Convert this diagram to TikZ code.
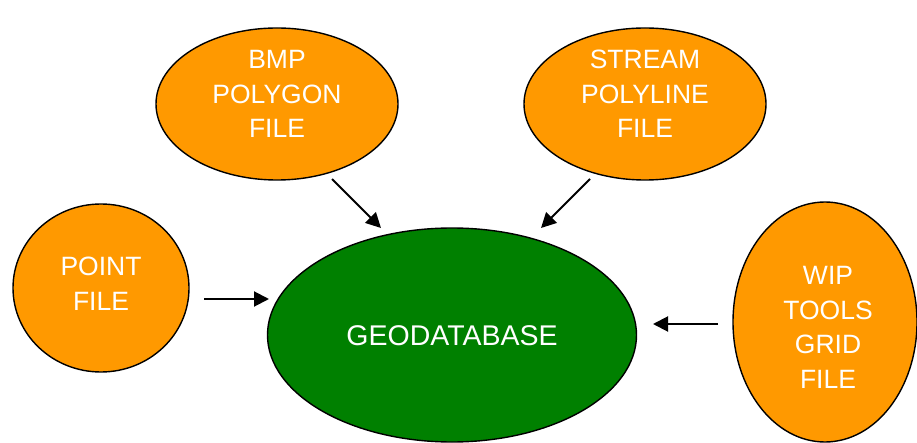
\documentclass[tikz,border=0pt]{standalone}
\usepackage{fontspec}
\setmainfont{Liberation Sans}
\usetikzlibrary{shapes.geometric,arrows.meta}
\definecolor{ornge}{RGB}{255,153,0}
\definecolor{dgreen}{RGB}{0,128,0}
\tikzset{
  orangeell/.style={ellipse,draw=black,line width=1.4pt,fill=ornge,inner sep=0pt},
  greenell/.style={ellipse,draw=black,line width=1.4pt,fill=dgreen,inner sep=0pt},
  lbl/.style={text=white,align=center,inner sep=0pt,font=\fontsize{26.5}{34.5}\selectfont},
  biglbl/.style={text=white,align=center,inner sep=0pt,font=\fontsize{28.5}{34}\selectfont},
  arr/.style={line width=2pt,-{Triangle[length=15pt,width=15pt]}}
}
\begin{document}
\begin{tikzpicture}[x=1pt,y=-1pt]
\useasboundingbox (0,0) rectangle (917,443);
% ellipses
\node[orangeell,minimum width=242pt,minimum height=152pt] (bmp) at (277,104) {};
\node[orangeell,minimum width=242pt,minimum height=152pt] (stream) at (645,104) {};
\node[orangeell,minimum width=176pt,minimum height=168pt] (point) at (101,288) {};
\node[orangeell,minimum width=184pt,minimum height=240pt] (wip) at (825,322) {};
\node[greenell,minimum width=369pt,minimum height=214pt] (geo) at (452,335) {};
% labels
\node[lbl] (bmpt) at (277,94) {BMP\\POLYGON\\FILE};
\node[lbl] (streamt) at (645,94) {STREAM\\POLYLINE\\FILE};
\node[lbl] (pointt) at (101,283.5) {POINT\\FILE};
\node[lbl] (wipt) at (828,327.5) {WIP\\TOOLS\\GRID\\FILE};
\node[biglbl] (geot) at (452,336) {GEODATABASE};
% arrow ends
\coordinate (a1s) at (332,179);
\coordinate (a1e) at (381,228);
\coordinate (a2s) at (590,179);
\coordinate (a2e) at (541,228);
\coordinate (a3s) at (204,299);
\coordinate (a3e) at (269,299);
\coordinate (a4s) at (718,324);
\coordinate (a4e) at (653,324);
\draw[arr] (a1s) -- (a1e);
\draw[arr] (a2s) -- (a2e);
\draw[arr] (a3s) -- (a3e);
\draw[arr] (a4s) -- (a4e);
\end{tikzpicture}
\end{document}
